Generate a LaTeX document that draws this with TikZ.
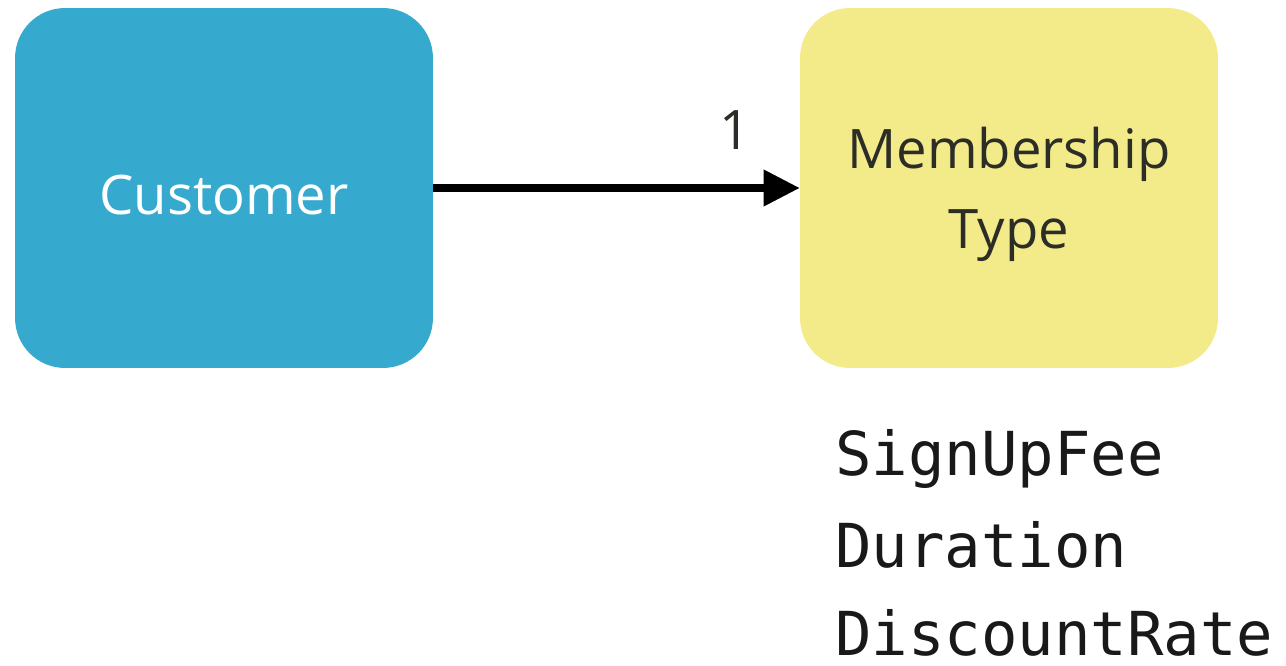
\documentclass[tikz,border=0pt]{standalone}
\usepackage{fontspec}
\setmainfont{Open Sans}
\newfontfamily\attrfont{DejaVu Sans Mono}
\usetikzlibrary{arrows.meta}
\definecolor{custblue}{RGB}{53,169,206}
\definecolor{memyellow}{RGB}{243,235,138}
\definecolor{textgrey}{RGB}{45,45,40}

\begin{document}
\begin{tikzpicture}[x=0.02cm, y=-0.02cm]
    \tikzset{entity/.style={rectangle, rounded corners=1cm, minimum width=8.36cm, minimum height=7.2cm, inner sep=0pt, align=center, font=\fontsize{31}{45.5}\selectfont}}
    \tikzset{attribute/.style={anchor=base west, inner sep=0pt, font=\attrfont\fontsize{34.5}{40}\selectfont, text=black!90}}
    \tikzset{relation/.style={-{Triangle[length=0.72cm, width=0.7cm]}, line width=4pt}}

    % page
    \useasboundingbox (0,0) rectangle (1286,666);

    % entities
    \node (customer) at (224,188) [entity, fill=custblue, text=white, text height=30pt] {Customer};
    \node (membership type) at (1009,188) [entity, fill=memyellow, text=textgrey, text depth=0pt] {Membership\\Type};

    % relation with multiplicity
    \draw[relation] (customer) -- (membership type)
      node (multiplicity) [pos=0.823, above=20pt, inner sep=0pt, font=\fontsize{31}{36}\selectfont, text=textgrey] {1};

    % attributes
    \node (sign up fee)   at (835,475) [attribute] {SignUpFee};
    \node (duration)      at (835,567) [attribute] {Duration};
    \node (discount rate) at (835,655) [attribute] {DiscountRate};

  \end{tikzpicture}
\end{document}
